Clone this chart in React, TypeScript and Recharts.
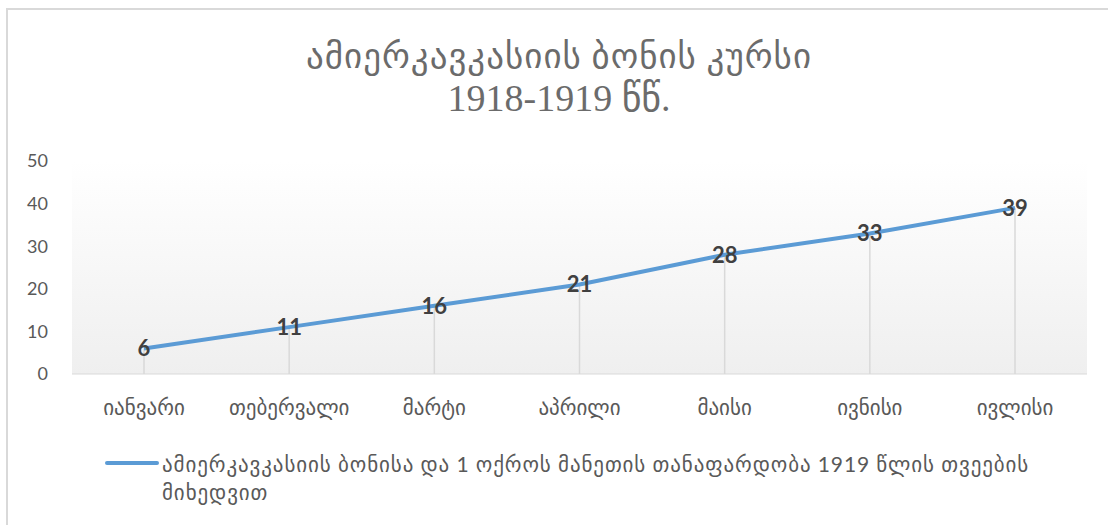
import React from "react";
import {
  LineChart,
  Line,
  XAxis,
  YAxis,
  CartesianGrid,
  ReferenceLine,
  LabelList,
} from "recharts";

const months = ["იანვარი", "თებერვალი", "მარტი", "აპრილი", "მაისი", "ივნისი", "ივლისი"];
const rates = [6, 11, 16, 21, 28, 33, 39];
const yTicks = [0, 10, 20, 30, 40, 50];
const seriesName =
  "ამიერკავკასიის ბონისა და 1 ოქროს მანეთის თანაფარდობა 1919 წლის თვეების მიხედვით";
const titleLines = ["ამიერკავკასიის ბონის კურსი", "1918-1919 წწ."];

const data = months.map((m, i) => ({ month: m, rate: rates[i] }));

const LINE_COLOR = "#5b9bd5";
const SANS = "Lato, 'DejaVu Sans', sans-serif";
const SERIF = "'Liberation Serif', 'DejaVu Sans', serif";

const renderValue = (props: any) => {
  const { x, y, value } = props;
  return (
    <text
      x={x}
      y={y}
      dy="0.36em"
      textAnchor="middle"
      fill="#404040"
      fontSize={22}
      fontWeight={700}
      fontFamily={SANS}
    >
      {value}
    </text>
  );
};

export default function App() {
  return (
    <div
      style={{
        position: "fixed",
        left: 0,
        top: 0,
        width: 1108,
        height: 525,
        background: "#fff",
        overflow: "hidden",
      }}
    >
      {/* chart frame */}
      <div
        style={{
          position: "absolute",
          left: 6,
          top: 8,
          width: 1120,
          height: 540,
          border: "2px solid #d9d9d9",
          boxSizing: "border-box",
        }}
      />

      <div
        style={{
          position: "absolute",
          left: 0,
          top: 37,
          width: 1118,
          textAlign: "center",
          fontFamily: SERIF,
          color: "#6b6b6b",
        }}
      >
        <div style={{ fontSize: 35, lineHeight: "40px", letterSpacing: 1 }}>{titleLines[0]}</div>
        <div style={{ fontSize: 38, lineHeight: "42px" }}>{titleLines[1]}</div>
      </div>

      <div style={{ position: "absolute", left: 0, top: 0 }}>
        <LineChart
          width={1108}
          height={525}
          data={data}
          margin={{ top: 161, right: 21, bottom: 121, left: 0 }}
        >
          <defs>
            <linearGradient id="plotBg" x1="0" y1="0" x2="0" y2="1">
              <stop offset="0%" stopColor="#ffffff" />
              <stop offset="100%" stopColor="#efefef" />
            </linearGradient>
          </defs>
          <CartesianGrid horizontal={false} vertical={false} fill="url(#plotBg)" />
          <XAxis
            dataKey="month"
            height={30}
            padding={{ left: 72, right: 72 }}
            axisLine={{ stroke: "#d9d9d9", strokeWidth: 1 }}
            tickLine={false}
            tickSize={0}
            tickMargin={26}
            interval={0}
            tick={{ fill: "#595959", fontSize: 21, fontFamily: SANS }}
          />
          <YAxis
            width={72}
            domain={[0, 50]}
            ticks={yTicks}
            axisLine={false}
            tickLine={false}
            tickSize={0}
            tickMargin={24}
            tick={{ fill: "#595959", fontSize: 18, fontFamily: SANS }}
          />
          {data.map((d) => (
            <ReferenceLine
              key={d.month}
              segment={[
                { x: d.month, y: 0 },
                { x: d.month, y: d.rate },
              ]}
              stroke="#d9d9d9"
              strokeWidth={1.5}
            />
          ))}
          <Line
            type="linear"
            dataKey="rate"
            name={seriesName}
            stroke={LINE_COLOR}
            strokeWidth={4}
            dot={false}
            activeDot={false}
            isAnimationActive={false}
          >
            <LabelList dataKey="rate" content={renderValue} />
          </Line>
        </LineChart>
      </div>

      <div
        style={{
          position: "absolute",
          left: 105,
          top: 450,
          width: 960,
          display: "flex",
          alignItems: "flex-start",
          fontFamily: SANS,
          fontSize: 21,
          letterSpacing: 0.9,
          lineHeight: "28px",
          color: "#595959",
        }}
      >
        <span
          style={{
            display: "inline-block",
            width: 54,
            height: 4,
            background: LINE_COLOR,
            borderRadius: 2,
            marginTop: 11,
            flexShrink: 0,
          }}
        />
        <span style={{ marginLeft: 3, width: 885 }}>{seriesName}</span>
      </div>
    </div>
  );
}
